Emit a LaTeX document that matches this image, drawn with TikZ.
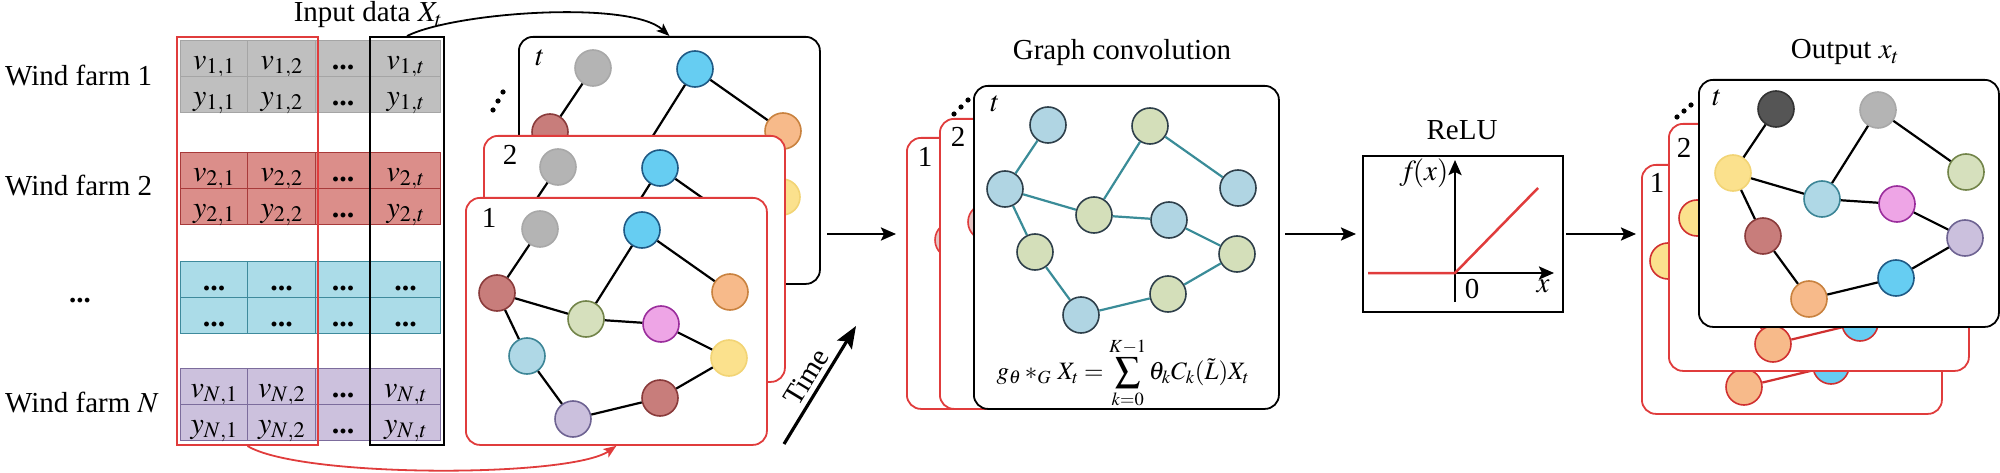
\documentclass[tikz,border=0pt]{standalone}
\usepackage{mathptmx}
\usepackage[no-math]{fontspec}
\setmainfont{Liberation Serif}
\usetikzlibrary{arrows.meta,calc}
\definecolor{cRed}{HTML}{E03C3C}
\definecolor{cRedD}{HTML}{D03030}
\definecolor{grayF}{HTML}{B4B4B4}\definecolor{grayD}{HTML}{A8A8A8}
\definecolor{skyF}{HTML}{66CDF2}\definecolor{skyD}{HTML}{1F5A85}
\definecolor{roseF}{HTML}{C87D7B}\definecolor{roseD}{HTML}{8A3B3B}
\definecolor{orangeF}{HTML}{F7BA8A}\definecolor{orangeD}{HTML}{C9823F}
\definecolor{greenF}{HTML}{D6E0BD}\definecolor{greenD}{HTML}{728449}
\definecolor{pinkF}{HTML}{EEA5E6}\definecolor{pinkD}{HTML}{9A2D9C}
\definecolor{lblueF}{HTML}{AFD8E6}\definecolor{lblueD}{HTML}{3C8596}
\definecolor{yellowF}{HTML}{FBE18D}\definecolor{yellowD}{HTML}{F2D475}
\definecolor{lavF}{HTML}{CBC0DD}\definecolor{lavD}{HTML}{6E6392}
\definecolor{darkF}{HTML}{555555}\definecolor{darkD}{HTML}{333333}
\definecolor{convLB}{HTML}{B0D5E3}\definecolor{convGR}{HTML}{D4DFBA}\definecolor{convD}{HTML}{2E3F4A}
\definecolor{teal2}{HTML}{3A8C98}
\definecolor{rowAF}{HTML}{BFBFBF}\definecolor{rowAD}{HTML}{A5A5A5}
\definecolor{rowBF}{HTML}{DB8E8A}\definecolor{rowBD}{HTML}{A83A3A}
\definecolor{rowCF}{HTML}{ABDCE8}\definecolor{rowCD}{HTML}{3E8A9C}
\definecolor{rowDF}{HTML}{CCC1DD}\definecolor{rowDD}{HTML}{7C6C9C}
\newcommand{\tdots}{{\bfseries...}}
\tikzset{
 lab/.style={font=\fontsize{29}{32}\selectfont, inner sep=0pt},
 flabel/.style={font=\fontsize{29}{32}\selectfont, inner sep=0pt},
 gnode/.style={circle, minimum size=36pt, inner sep=0pt, line width=1.6pt},
 ngray/.style={gnode, fill=grayF, draw=grayD},
 nsky/.style={gnode, fill=skyF, draw=skyD},
 nrose/.style={gnode, fill=roseF, draw=roseD},
 norange/.style={gnode, fill=orangeF, draw=orangeD},
 ngreen/.style={gnode, fill=greenF, draw=greenD},
 npink/.style={gnode, fill=pinkF, draw=pinkD},
 nlblue/.style={gnode, fill=lblueF, draw=lblueD},
 nyellow/.style={gnode, fill=yellowF, draw=yellowD},
 nlav/.style={gnode, fill=lavF, draw=lavD},
 ndark/.style={gnode, fill=darkF, draw=darkD},
 nlbc/.style={gnode, fill=convLB, draw=convD},
 ngrc/.style={gnode, fill=convGR, draw=convD},
 pk/.style={gnode, fill=roseF!45, draw=cRed},
 gedge/.style={line width=2.2pt, draw=black},
 ga/.style=ngray, gb/.style=nsky, gc/.style=nrose, gd/.style=norange, ge/.style=ngreen,
 gf/.style=npink, gg/.style=nlblue, gh/.style=nyellow, gi/.style=nrose, gj/.style=nlav,
 inputcols/.style={ga/.style=ngray, gb/.style=nsky, gc/.style=nrose, gd/.style=norange, ge/.style=ngreen,
   gf/.style=npink, gg/.style=nlblue, gh/.style=nyellow, gi/.style=nrose, gj/.style=nlav},
 outcols/.style={ga/.style=ndark, gb/.style=ngray, gc/.style=nyellow, gd/.style=ngreen, ge/.style=nlblue,
   gf/.style=npink, gg/.style=nrose, gh/.style=nlav, gi/.style=nsky, gj/.style=norange},
 outback/.style={ga/.style={ndark,draw=cRedD}, gb/.style={ngray,draw=cRedD}, gc/.style={nyellow,draw=cRedD},
   gd/.style={ngreen,draw=cRedD}, ge/.style={nlblue,draw=cRedD}, gf/.style={npink,draw=cRedD},
   gg/.style={nrose,draw=cRedD}, gh/.style={nlav,draw=cRedD}, gi/.style={nsky,draw=cRedD},
   gj/.style={norange,draw=cRedD}, gedge/.style={line width=2.2pt, draw=cRedD}},
 convcols/.style={ga/.style=nlbc, gb/.style=ngrc, gc/.style=nlbc, gd/.style=nlbc, ge/.style=ngrc,
   gf/.style=nlbc, gg/.style=ngrc, gh/.style=ngrc, gi/.style=ngrc, gj/.style=nlbc,
   gedge/.style={line width=2.2pt, draw=teal2}},
 gframe/.style={rounded corners=14pt, fill=white, line width=1.8pt, anchor=north west, inner sep=0pt},
 cell/.style={draw, line width=1.4pt, anchor=north west, minimum height=36pt, inner sep=0pt,
   text height=22pt, text depth=1pt, font=\fontsize{30}{32}\selectfont},
 rowA/.style={fill=rowAF, draw=rowAD},
 rowB/.style={fill=rowBF, draw=rowBD},
 rowC/.style={fill=rowCF, draw=rowCD},
 rowD/.style={fill=rowDF, draw=rowDD},
 marr/.style={line width=2.5pt, -{Stealth[length=15pt,width=13pt,inset=3pt]}},
 carr/.style={line width=1.8pt, -{Stealth[length=13pt,width=10pt,inset=3pt]}},
 tarr/.style={line width=3.2pt, -{Stealth[length=22pt,width=17pt,inset=4pt]}}
}
\newcommand{\gfr}[6]{\node[gframe, draw=#4, minimum width=#5pt, minimum height=#6pt] (#1) at (#2,#3) {};}
\newcommand{\drawgraph}[3]{%
 \begin{scope}[shift={(#2,#3)}]
 \node[ga] (#1a) at (75,32) {};
 \node[gb] (#1b) at (177,33) {};
 \node[gc] (#1c) at (32,96) {};
 \node[gd] (#1d) at (265,95) {};
 \node[ge] (#1e) at (121,122) {};
 \node[gf] (#1f) at (196,127) {};
 \node[gg] (#1g) at (62,159) {};
 \node[gh] (#1h) at (264,161) {};
 \node[gi] (#1i) at (195,201) {};
 \node[gj] (#1j) at (108,222) {};
 \end{scope}
 \draw[gedge] (#1a) -- (#1c) (#1c) -- (#1e) (#1c) -- (#1g) (#1g) -- (#1j) (#1j) -- (#1i)
   (#1i) -- (#1h) (#1h) -- (#1f) (#1f) -- (#1e) (#1e) -- (#1b) (#1b) -- (#1d);
}
\newcommand{\trow}[4]{%
 \node[cell,#3,minimum width=67pt] (#1-1v) at (180,#2) {$v_{#4,1}$};
 \node[cell,#3,minimum width=67pt] (#1-1y) at (180,#2+36) {$y_{#4,1}$};
 \node[cell,#3,minimum width=68pt] (#1-2v) at (247,#2) {$v_{#4,2}$};
 \node[cell,#3,minimum width=68pt] (#1-2y) at (247,#2+36) {$y_{#4,2}$};
 \node[cell,#3,minimum width=55pt] (#1-3v) at (315,#2) {\tdots};
 \node[cell,#3,minimum width=55pt] (#1-3y) at (315,#2+36) {\tdots};
 \node[cell,#3,minimum width=70pt] (#1-4v) at (370,#2) {$v_{#4,t}$};
 \node[cell,#3,minimum width=70pt] (#1-4y) at (370,#2+36) {$y_{#4,t}$};
}
\begin{document}
\begin{tikzpicture}[x=1pt,y=-1pt]
\useasboundingbox (0,0) rectangle (2000,473);
% row labels
\node[lab, anchor=base west] (wf1) at (5,86) {Wind farm 1};
\node[lab, anchor=base west] (wf2) at (5,196) {Wind farm 2};
\node[lab, anchor=base] (wfd) at (80,302) {\tdots};
\node[lab, anchor=base west] (wfN) at (5,412) {Wind farm $N$};
% table
\trow{rA}{40}{rowA}{1}
\trow{rB}{152}{rowB}{2}
\node[cell,rowC,minimum width=67pt] (rC-1v) at (180,261) {\tdots};
\node[cell,rowC,minimum width=67pt] (rC-1y) at (180,297) {\tdots};
\node[cell,rowC,minimum width=68pt] (rC-2v) at (247,261) {\tdots};
\node[cell,rowC,minimum width=68pt] (rC-2y) at (247,297) {\tdots};
\node[cell,rowC,minimum width=55pt] (rC-3v) at (315,261) {\tdots};
\node[cell,rowC,minimum width=55pt] (rC-3y) at (315,297) {\tdots};
\node[cell,rowC,minimum width=70pt] (rC-4v) at (370,261) {\tdots};
\node[cell,rowC,minimum width=70pt] (rC-4y) at (370,297) {\tdots};
\trow{rD}{368}{rowD}{N}
\node[draw=cRed, line width=2pt, anchor=north west, minimum width=141pt, minimum height=408pt, inner sep=0pt] (redsel) at (176,36) {};
\node[draw=black, line width=2pt, anchor=north west, minimum width=74pt, minimum height=408pt, inner sep=0pt] (blksel) at (369,36) {};
\node[lab, anchor=base] (inlab) at (368,22) {Input data $X_t$};
% input frames
\begin{scope}[inputcols]
\gfr{int}{518}{36}{black}{301}{247}
\drawgraph{it}{518}{36}
\node[flabel] (int-l) at (540,58) {$t$};
\gfr{in2}{483}{135}{cRed}{301}{246}
\drawgraph{iw}{483}{135}
\node[flabel] (in2-l) at (510,155) {2};
\gfr{in1}{465}{197}{cRed}{301}{247}
\drawgraph{io}{465}{197}
\node[flabel] (in1-l) at (489,218) {1};
\end{scope}
\foreach \p in {(493,110),(498,101),(503,92)} \fill \p circle[radius=2.6pt];
\draw[carr] (blksel.north) .. controls (455,12) and (630,0) .. (int.north);
\draw[carr, draw=cRed] (redsel.south) .. controls (300,478) and (570,478) .. (in1.south);
% time arrow
\coordinate (tA) at (784,444);
\coordinate (tB) at (856,326);
\draw[tarr] (tA) -- (tB);
\node[lab, rotate=58.7] (timelab) at (806,377) {Time};
% arrow 1
\coordinate (a1s) at (827,234);
\coordinate (a1e) at (896,234);
\draw[marr] (a1s) -- (a1e);
% graph convolution
\node[lab, anchor=base] (cvtitle) at (1122,60) {Graph convolution};
\gfr{cv1}{906}{137}{cRed}{305}{271}
\node[flabel] (cv1-l) at (925,157) {1};
\node[pk] (pk1) at (953,240) {};
\gfr{cv2}{939}{118}{cRed}{305}{290}
\node[flabel] (cv2-l) at (958,137) {2};
\node[pk] (pk2) at (986,222) {};
\gfr{cvt}{973}{85}{black}{305}{323}
\node[flabel] (cvt-l) at (995,104) {$t$};
\begin{scope}[convcols]
\drawgraph{cg}{973}{93}
\end{scope}
\foreach \p in {(954,114),(961,107),(968,100)} \fill \p circle[radius=2.6pt];
\node[inner sep=0pt] (formula) at (1123,373) {\fontsize{25}{27}\selectfont $\displaystyle g_\theta *_G \, X_t = \sum_{k=0}^{K-1}\theta_k C_k(\tilde{L})X_t$};
% arrow 2
\coordinate (a2s) at (1285,234);
\coordinate (a2e) at (1356,234);
\draw[marr] (a2s) -- (a2e);
% ReLU
\node[lab, anchor=base] (relutitle) at (1462,140) {ReLU};
\node[draw, line width=2pt, anchor=north west, minimum width=200pt, minimum height=156pt, inner sep=0pt] (relu) at (1362,155) {};
\coordinate (ro) at (1455,273);
\coordinate (ryb) at (1455,302);
\coordinate (ryt) at (1455,160);
\coordinate (rxl) at (1368,273);
\coordinate (rxr) at (1554,273);
\coordinate (rend) at (1538,188);
\draw[marr] (ryb) -- (ryt);
\draw[marr] (rxl) -- (rxr);
\draw[cRed, line width=2.5pt] (rxl) -- (ro) -- (rend);
\node[lab] (fx) at (1424,173) {$f\!(x)$};
\node[lab] (zero) at (1472,289) {0};
\node[lab] (xl) at (1543,286) {$x$};
% arrow 3
\coordinate (a3s) at (1566,234);
\coordinate (a3e) at (1636,234);
\draw[marr] (a3s) -- (a3e);
% output
\node[lab, anchor=base] (outtitle) at (1845,59) {Output $x_t$};
\begin{scope}[outback]
\gfr{ou1}{1641}{164}{cRed}{300}{249}
\drawgraph{oo}{1636}{165}
\node[flabel] (ou1-l) at (1657,183) {1};
\gfr{ou2}{1668}{123}{cRed}{300}{247}
\drawgraph{ow}{1665}{122}
\node[flabel] (ou2-l) at (1684,148) {2};
\end{scope}
\begin{scope}[outcols]
\gfr{out}{1698}{79}{black}{300}{247}
\drawgraph{ot}{1701}{77}
\node[flabel] (out-l) at (1717,98) {$t$};
\end{scope}
\foreach \p in {(1677,117),(1684,111),(1691,105)} \fill \p circle[radius=2.6pt];
\end{tikzpicture}
\end{document}
